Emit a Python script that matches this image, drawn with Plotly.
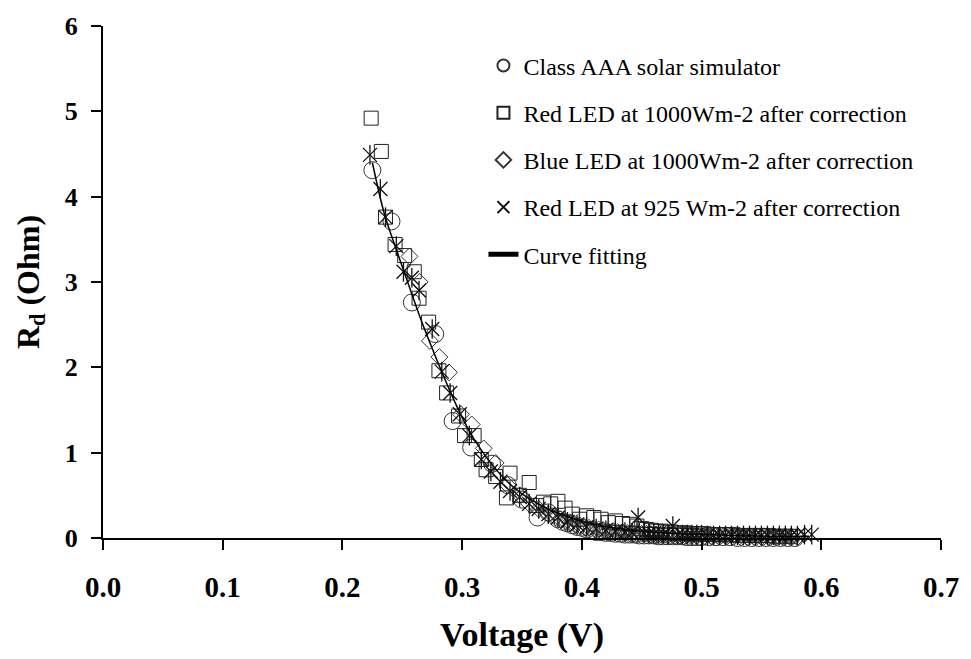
import plotly.graph_objects as go

# ---------------- data ----------------
aaa_v = [0.225, 0.241, 0.258, 0.2775, 0.292, 0.3075, 0.325, 0.338, 0.350, 0.363, 0.372,
         0.380, 0.384, 0.388, 0.392, 0.396, 0.400, 0.404, 0.408, 0.412, 0.416, 0.420, 0.424,
         0.428, 0.432, 0.436, 0.440, 0.444, 0.448, 0.452, 0.456, 0.460, 0.464, 0.468, 0.472,
         0.476, 0.480, 0.484, 0.488, 0.492, 0.496, 0.500, 0.506, 0.512, 0.518, 0.524, 0.530,
         0.536, 0.542, 0.548, 0.554, 0.560, 0.566, 0.572, 0.578]
aaa_r = [4.31, 3.71, 2.76, 2.39, 1.37, 1.06, 0.87, 0.62, 0.45, 0.24, 0.30,
         0.22, 0.19, 0.17, 0.15, 0.13, 0.12, 0.10, 0.09, 0.07, 0.07, 0.06, 0.06,
         0.05, 0.05, 0.04, 0.04, 0.04, 0.03, 0.03, 0.03, 0.03, 0.02, 0.02, 0.02,
         0.02, 0.02, 0.02, 0.01, 0.01, 0.01, 0.01, 0.01, 0.01, 0.01, 0.01, 0.0,
         0.0, 0.0, 0.0, 0.0, 0.0, 0.0, 0.0, 0.0]

red1000_v = [0.224, 0.2325, 0.236, 0.244, 0.252, 0.260, 0.264, 0.272, 0.2806, 0.287, 0.297, 0.302,
             0.310, 0.316, 0.320, 0.328, 0.337, 0.340, 0.348, 0.356, 0.362, 0.368, 0.374, 0.380,
             0.386, 0.392, 0.398, 0.404, 0.410, 0.416, 0.422, 0.428, 0.434, 0.440, 0.446, 0.450,
             0.454, 0.458, 0.462, 0.466, 0.470, 0.474, 0.478, 0.482, 0.486, 0.490, 0.494, 0.498,
             0.502, 0.508, 0.514, 0.520, 0.526, 0.532, 0.538, 0.544, 0.550, 0.556, 0.562, 0.568, 0.574]
red1000_r = [4.92, 4.53, 3.76, 3.44, 3.31, 3.12, 2.81, 2.53, 1.96, 1.70, 1.43, 1.20,
             1.20, 0.92, 0.80, 0.72, 0.47, 0.76, 0.50, 0.65, 0.38, 0.42, 0.40, 0.43,
             0.35, 0.28, 0.22, 0.26, 0.24, 0.22, 0.18, 0.20, 0.17, 0.16, 0.14, 0.11,
             0.10, 0.09, 0.08, 0.08, 0.07, 0.07, 0.06, 0.06, 0.06, 0.05, 0.05, 0.05,
             0.05, 0.04, 0.04, 0.04, 0.04, 0.03, 0.03, 0.03, 0.03, 0.03, 0.02, 0.02, 0.02]

blue1000_v = [0.256, 0.2645, 0.273, 0.281, 0.289, 0.299, 0.308, 0.318, 0.328, 0.338, 0.348, 0.356,
              0.364, 0.372, 0.378, 0.382, 0.386, 0.390, 0.394, 0.398, 0.402, 0.406, 0.410, 0.414,
              0.418, 0.422, 0.426, 0.430, 0.434, 0.438, 0.442, 0.446, 0.450, 0.454, 0.458, 0.462,
              0.466, 0.470, 0.474, 0.478, 0.482, 0.486, 0.490, 0.496, 0.502, 0.508, 0.514, 0.520,
              0.526, 0.532, 0.538, 0.544, 0.550, 0.556, 0.562, 0.568, 0.574, 0.580]
blue1000_r = [3.30, 3.00, 2.31, 2.12, 1.94, 1.45, 1.33, 1.05, 0.88, 0.62, 0.50, 0.40,
              0.34, 0.28, 0.24, 0.22, 0.20, 0.18, 0.16, 0.15, 0.13, 0.12, 0.11, 0.10,
              0.09, 0.08, 0.08, 0.07, 0.07, 0.06, 0.06, 0.05, 0.05, 0.05, 0.04, 0.04,
              0.04, 0.04, 0.03, 0.03, 0.03, 0.03, 0.03, 0.02, 0.02, 0.02, 0.02, 0.02,
              0.02, 0.02, 0.01, 0.01, 0.01, 0.01, 0.01, 0.01, 0.01, 0.01]

red925_v = [0.223, 0.2317, 0.236, 0.245, 0.251, 0.258, 0.264, 0.275, 0.283, 0.290, 0.298, 0.306,
            0.316, 0.324, 0.332, 0.340, 0.348, 0.356, 0.364, 0.372, 0.380, 0.388, 0.396, 0.404,
            0.412, 0.420, 0.428, 0.436, 0.442, 0.447, 0.452, 0.456, 0.460, 0.464, 0.468, 0.472,
            0.476, 0.480, 0.484, 0.488, 0.492, 0.496, 0.500, 0.505, 0.510, 0.515, 0.520, 0.525,
            0.530, 0.535, 0.540, 0.545, 0.550, 0.555, 0.560, 0.565, 0.570, 0.575, 0.580, 0.586, 0.592]
red925_r = [4.49, 4.09, 3.76, 3.42, 3.12, 3.05, 2.90, 2.45, 1.95, 1.70, 1.45, 1.20,
            0.92, 0.78, 0.66, 0.55, 0.48, 0.40, 0.34, 0.28, 0.24, 0.19, 0.16, 0.13,
            0.11, 0.09, 0.08, 0.07, 0.06, 0.24, 0.06, 0.05, 0.05, 0.05, 0.05, 0.04,
            0.14, 0.04, 0.04, 0.04, 0.04, 0.04, 0.04, 0.03, 0.03, 0.03, 0.03, 0.03,
            0.03, 0.03, 0.03, 0.03, 0.03, 0.03, 0.03, 0.03, 0.03, 0.03, 0.03, 0.04, 0.04]

fit_v = [0.225, 0.235, 0.245, 0.255, 0.265, 0.275, 0.285, 0.295, 0.305, 0.315, 0.325, 0.335,
         0.345, 0.355, 0.365, 0.375, 0.390, 0.410, 0.430, 0.450, 0.470, 0.500, 0.530, 0.560, 0.590]
fit_r = [4.40, 3.80, 3.38, 2.98, 2.58, 2.22, 1.88, 1.56, 1.28, 1.05, 0.86, 0.70,
         0.57, 0.47, 0.39, 0.32, 0.24, 0.16, 0.11, 0.08, 0.06, 0.04, 0.03, 0.02, 0.02]

x_ticks = [0.0, 0.1, 0.2, 0.3, 0.4, 0.5, 0.6, 0.7]
y_ticks = [0, 1, 2, 3, 4, 5, 6]

names = ["Class AAA solar simulator",
         "Red LED at 1000Wm-2 after correction",
         "Blue LED at 1000Wm-2 after correction",
         "Red LED at 925 Wm-2 after correction",
         "Curve fitting"]

SERIF = "Liberation Serif"
LINE = dict(color="#222222", width=1)

fig = go.Figure()
fig.add_trace(go.Scatter(x=aaa_v, y=aaa_r, mode="markers", name=names[0], legendgroup="a",
                         cliponaxis=False,
                         marker=dict(symbol="circle-open", size=17, color="#333333", line=LINE)))
fig.add_trace(go.Scatter(x=red1000_v, y=red1000_r, mode="markers", name=names[1], legendgroup="b",
                         cliponaxis=False,
                         marker=dict(symbol="square-open", size=14, color="#222222", line=LINE)))
fig.add_trace(go.Scatter(x=blue1000_v, y=blue1000_r, mode="markers", name=names[2], legendgroup="c",
                         cliponaxis=False,
                         marker=dict(symbol="diamond-open", size=13, color="#333333", line=LINE)))
fig.add_trace(go.Scatter(x=red925_v, y=red925_r, mode="markers", name=names[3], legendgroup="d",
                         cliponaxis=False,
                         marker=dict(symbol="x-thin-open", size=14, color="#111111",
                                     line=dict(color="#111111", width=1.3))))
fig.add_trace(go.Scatter(x=red925_v, y=red925_r, mode="markers", name=names[3], legendgroup="d",
                         showlegend=False, cliponaxis=False,
                         marker=dict(symbol="line-ns-open", size=14, color="#111111",
                                     line=dict(color="#111111", width=1.3))))
fig.add_trace(go.Scatter(x=fit_v, y=fit_r, mode="lines", name=names[4], legendgroup="e",
                         line=dict(color="black", width=1.5, shape="spline")))

fig.update_layout(
    width=971, height=659,
    margin=dict(l=103, r=29, t=18, b=120),
    paper_bgcolor="white", plot_bgcolor="white",
    font=dict(family=SERIF, color="black"),
    showlegend=True,
    legend=dict(x=0.454, y=0.966, xanchor="left", yanchor="top",
                font=dict(family=SERIF, size=24, color="black"),
                bgcolor="rgba(0,0,0,0)", borderwidth=0,
                traceorder="grouped", tracegroupgap=13, itemsizing="constant"),
    xaxis=dict(range=[0, 0.7], tickvals=x_ticks, ticktext=[f"{v:.1f}" for v in x_ticks],
               showline=True, linecolor="black", linewidth=2,
               ticks="outside", ticklen=10, tickwidth=2, tickcolor="black",
               showgrid=False, zeroline=False, ticklabelstandoff=12,
               tickfont=dict(family=SERIF, size=29, color="black", weight="bold"),
               title=dict(text="<b>Voltage (V)</b>", font=dict(family=SERIF, size=34, color="black"),
                          standoff=20)),
    yaxis=dict(range=[0, 6], tickvals=y_ticks,
               showline=True, linecolor="black", linewidth=2,
               ticks="outside", ticklen=10, tickwidth=2, tickcolor="black",
               showgrid=False, zeroline=False, ticklabelstandoff=8,
               tickfont=dict(family=SERIF, size=26, color="black", weight="bold"),
               title=dict(text="<b>R<sub>d</sub> (Ohm)</b>", font=dict(family=SERIF, size=32, color="black"),
                          standoff=16)),
)

fig.write_html("out.html")
